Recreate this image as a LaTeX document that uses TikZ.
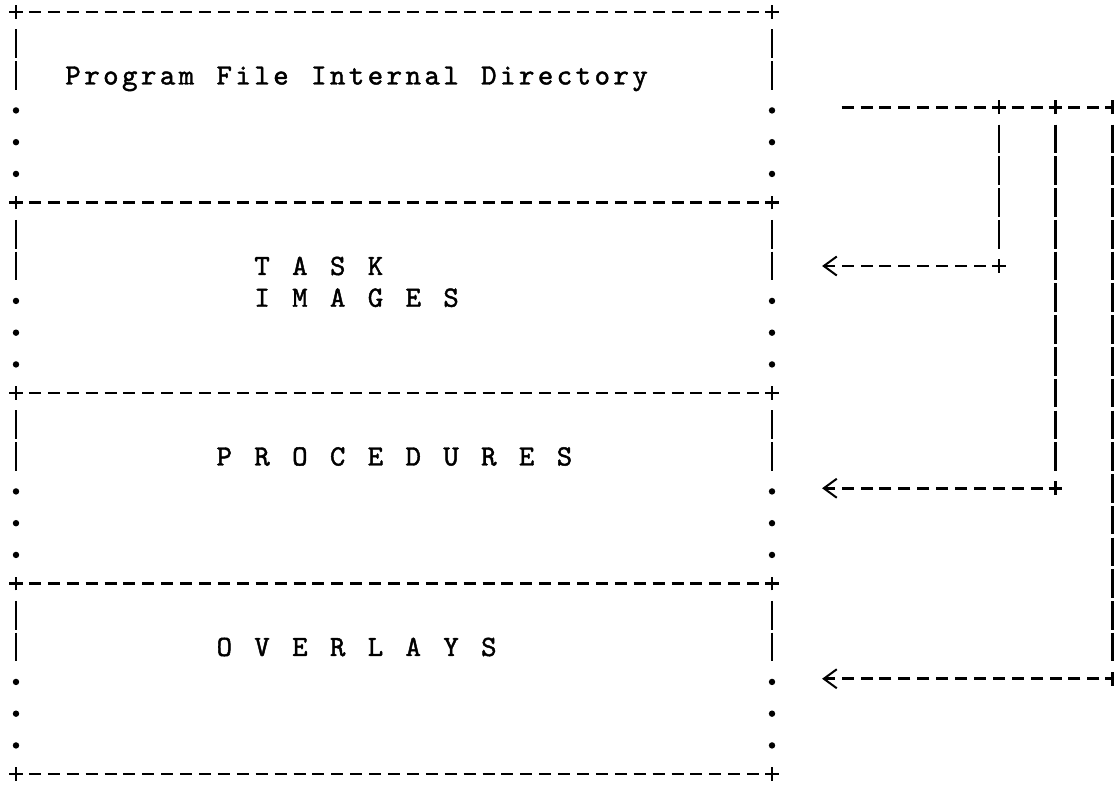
\documentclass[tikz,border=0pt]{standalone}
\usepackage{fontspec}
\newfontfamily\typefont{lmmono10-regular.otf}[FakeBold=1.5]
\usetikzlibrary{arrows.meta,shapes.misc}

% every typed character sits in a cell of one typewriter pitch
\newlength\pitch
\setlength\pitch{9.45pt}
\newcommand\typed[1]{\typeloop#1\relax}
\def\typeloop#1{\ifx\relax#1\else\makebox[\pitch][c]{#1}\expandafter\typeloop\fi}

\begin{document}
\begin{tikzpicture}[x=9.45pt,y=-15.875pt,
  ink/.style={line width=1.3pt,black},
  hdash/.style={ink,dash pattern=on 6pt off 3.45pt,shorten <=6.45pt,shorten >=6.45pt},
  vrule/.style={ink,dash pattern=on 14.29pt off 1.5875pt},
  vbar/.style={vrule,shorten <=8.73pt,shorten >=8.73pt},
  junction/.style={cross out,draw,rotate=45,minimum size=4.8pt,inner sep=0pt,outer sep=0pt,ink},
  txt/.style={anchor=base west,inner sep=0pt,font=\typefont\fontsize{14.7}{16}\selectfont},
  tipline/.style={ink,dash pattern=on 6pt off 3.45pt,shorten <=6.45pt,
    -{Straight Barb[length=6.5pt,width=9.5pt,line width'=1pt]}}]

% page
\fill[white] (-0.8466,-0.378) rectangle (58.095,24.472);
\useasboundingbox (-0.8466,-0.378) rectangle (58.095,24.472);

% the stacked file layout
\foreach \k in {0,...,4} {
  \node[junction] (L\k) at (0,6*\k) {};
  \node[junction] (R\k) at (40,6*\k) {};
}
\foreach \k in {0,...,4}
  \draw[hdash] (L\k.center) -- (R\k.center);
\foreach \k in {0,...,3} {
  \foreach \c in {0,40} {
    \draw[vrule] (\c,6*\k+0.55) -- (\c,6*\k+2.45);
    \foreach \r in {3,4,5}
      \fill (\c,6*\k+\r+0.1) circle (1.6pt);
  }
}

% section titles
\node[txt] (dir) at (2.5,2.283) {\typed{Program~File~Internal~Directory}};
\node[txt] (task) at (12.5,8.283) {\typed{T~A~S~K}};
\node[txt] (images) at (12.5,9.283) {\typed{I~M~A~G~E~S}};
\node[txt] (proc) at (10.5,14.283) {\typed{P~R~O~C~E~D~U~R~E~S}};
\node[txt] (ovl) at (10.5,20.283) {\typed{O~V~E~R~L~A~Y~S}};

% pointers into the sections
\coordinate (feed) at (43.683,3);
\node[junction] (J1) at (52,3) {};
\node[junction] (J2) at (55,3) {};
\node[junction] (J3) at (58,3) {};
\node[junction] (E1) at (52,8) {};
\node[junction] (E2) at (55,15) {};
\node[junction] (E3) at (58,21) {};
\coordinate (tip1) at (42.65,8);
\coordinate (tip2) at (42.65,15);
\coordinate (tip3) at (42.65,21);

\draw[ink,dash pattern=on 6pt off 3.45pt,shorten >=6.45pt] (feed) -- (J1.center);
\draw[hdash] (J1.center) -- (J2.center);
\draw[hdash] (J2.center) -- (J3.center);
\draw[vbar] (J1.center) -- (E1.center);
\draw[vbar] (J2.center) -- (E2.center);
\draw[vbar] (J3.center) -- (E3.center);
\draw[tipline] (E1.center) -- (tip1);
\draw[tipline] (E2.center) -- (tip2);
\draw[tipline] (E3.center) -- (tip3);
\end{tikzpicture}
\end{document}
